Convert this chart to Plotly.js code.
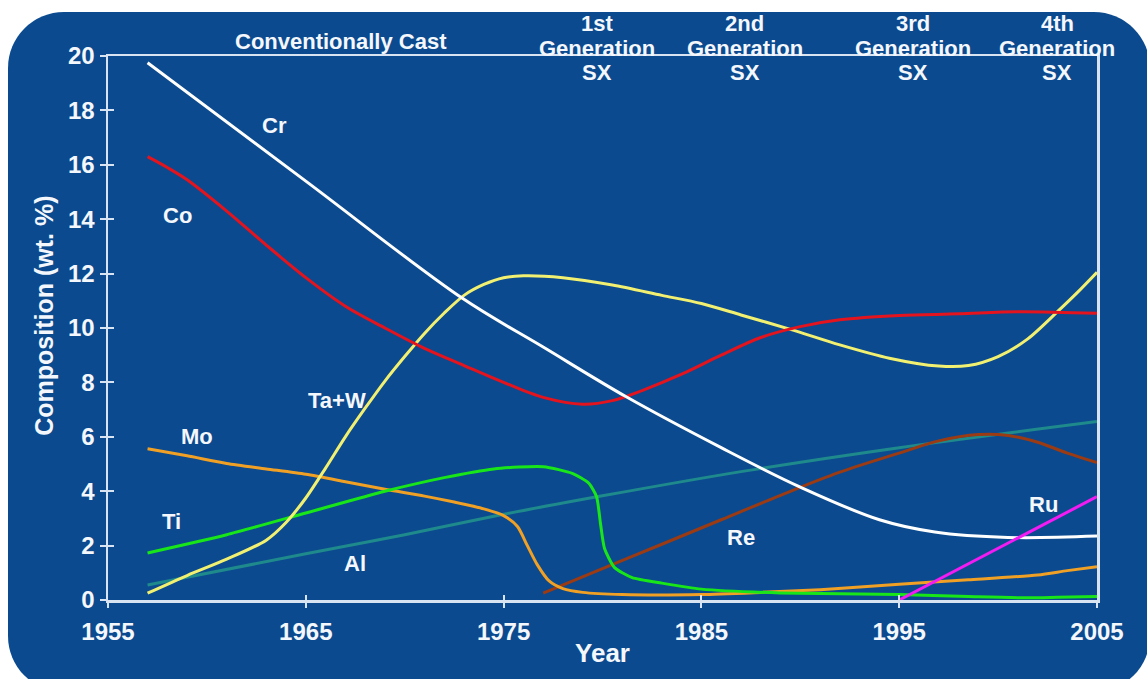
<!DOCTYPE html>
<html>
<head>
<meta charset="utf-8">
<script src="https://cdn.plot.ly/plotly-3.0.1.min.js"></script>
<style>
  html, body { margin: 0; padding: 0; background: #ffffff; overflow: hidden; }
  #panel { position: absolute; left: 8px; top: 12px; width: 1142px; height: 680px;
           background: #0b4a8f; border-radius: 56px; }
  #chart { position: absolute; left: 0; top: 0; width: 1147px; height: 679px; }
</style>
</head>
<body>
<div id="panel"></div>
<div id="chart"></div>
<script>
// ---- Data ----
const crYears = [1957, 1965, 1972.9, 1977, 1981.2, 1986, 1990, 1994, 1996.8, 2000.5, 2005];
const crVals  = [19.75, 15.4, 11.1, 9.3, 7.47, 5.6, 4.15, 2.95, 2.5, 2.3, 2.35];

const coYears = [1957, 1958, 1959, 1961, 1963, 1965, 1967, 1969, 1971, 1973, 1975, 1977, 1979, 1980.5, 1982, 1984, 1986, 1988, 1990, 1992, 1995, 1998, 2001, 2005];
const coVals  = [16.3, 15.9, 15.45, 14.3, 13.05, 11.85, 10.8, 10.0, 9.25, 8.62, 8.0, 7.45, 7.2, 7.33, 7.7, 8.3, 9.0, 9.65, 10.05, 10.3, 10.46, 10.52, 10.6, 10.54];

const tawYears = [1957, 1959, 1961, 1963, 1964, 1965, 1966, 1967, 1968, 1969, 1970, 1971, 1972, 1973, 1974, 1975, 1976, 1978, 1980.5, 1983, 1985, 1987, 1989.5, 1992, 1994.5, 1997, 1998.5, 2000, 2001.5, 2003, 2004, 2005];
const tawVals  = [0.25, 0.9, 1.5, 2.2, 2.85, 3.75, 4.85, 6.0, 7.05, 8.05, 8.95, 9.8, 10.55, 11.2, 11.6, 11.85, 11.92, 11.85, 11.58, 11.2, 10.9, 10.48, 9.95, 9.38, 8.89, 8.6, 8.62, 8.95, 9.6, 10.6, 11.3, 12.05];

const moYears = [1957, 1959, 1961, 1963, 1965, 1967, 1969, 1971, 1972.5, 1974, 1975, 1975.7, 1976.2, 1976.7, 1977.3, 1978, 1979, 1981, 1985, 1988, 1991, 1995, 1998.5, 2002, 2003.5, 2005];
const moVals  = [5.56, 5.3, 5.02, 4.82, 4.62, 4.35, 4.07, 3.82, 3.6, 3.35, 3.1, 2.7, 2.0, 1.3, 0.7, 0.42, 0.28, 0.2, 0.2, 0.28, 0.38, 0.58, 0.74, 0.92, 1.08, 1.22];

const tiYears = [1957, 1961, 1965, 1969, 1972, 1974.5, 1977, 1978.5, 1979.3, 1979.7, 1979.9, 1980.1, 1980.6, 1981.5, 1983, 1985, 1989, 1995, 1998.5, 2001.5, 2003, 2005];
const tiVals  = [1.73, 2.4, 3.2, 4.0, 4.5, 4.82, 4.9, 4.65, 4.3, 3.8, 2.8, 1.9, 1.2, 0.82, 0.62, 0.4, 0.26, 0.2, 0.13, 0.08, 0.1, 0.13];

const alYears = [1957, 1965, 1970, 1975, 1980, 1987, 1995, 2005];
const alVals  = [0.55, 1.7, 2.4, 3.15, 3.83, 4.72, 5.6, 6.56];

const reYears = [1977, 1980, 1983, 1986, 1989, 1992, 1995, 1997, 1999, 2000.5, 2002, 2003.5, 2005];
const reVals  = [0.25, 1.15, 2.05, 2.95, 3.85, 4.7, 5.4, 5.85, 6.08, 6.05, 5.8, 5.4, 5.05];

const ruYears = [1995, 2005];
const ruVals  = [0.0, 3.8];

const elementNames  = ['Cr', 'Co', 'Ta+W', 'Mo', 'Ti', 'Al', 'Re', 'Ru'];
const labelYears    = [1963.4, 1958.5, 1966.6, 1959.5, 1958.2, 1967.5, 1987.0, 2002.3];
const labelVals     = [17.45, 14.15, 7.35, 6.0, 2.87, 1.36, 2.28, 3.5];

const eraLabel = 'Conventionally Cast';
const eraYear = 1966.8;
const genOrdinals = ['1st', '2nd', '3rd', '4th'];
const genYears = [1979.7, 1987.2, 1995.7, 2003.0];

const xTicks = [1955, 1965, 1975, 1985, 1995, 2005];
const yTicks = [0, 2, 4, 6, 8, 10, 12, 14, 16, 18, 20];

// ---- Styling ----
const FONT = '"Liberation Sans", Arial, sans-serif';
const TXT = '#f4f7fc';
const FRAME = '#d9e4f2';

function series(x, y, color, shape, smoothing) {
  return {
    x: x, y: y, type: 'scatter', mode: 'lines',
    line: { color: color, width: 3, shape: shape, smoothing: smoothing },
    hoverinfo: 'skip', showlegend: false
  };
}

const traces = [
  series(alYears, alVals, '#1f8a8c', 'spline', 1),
  series(reYears, reVals, '#9b3b14', 'spline', 1),
  series(moYears, moVals, '#f0a024', 'spline', 0.7),
  series(tiYears, tiVals, '#19e619', 'spline', 0.6),
  series(tawYears, tawVals, '#f2f070', 'spline', 0.8),
  series(coYears, coVals, '#e3141e', 'spline', 0.9),
  series(crYears, crVals, '#ffffff', 'spline', 1),
  series(ruYears, ruVals, '#f21cf2', 'linear', 0),
  // empty trace on overlay axes (used only for inner tick marks)
  { x: [], y: [], xaxis: 'x2', yaxis: 'y2', type: 'scatter', mode: 'lines', hoverinfo: 'skip', showlegend: false }
];

const labelFont = { family: FONT, size: 22, color: TXT, weight: 700 };
const annotations = [];
for (let i = 0; i < elementNames.length; i++) {
  annotations.push({
    x: labelYears[i], y: labelVals[i], xref: 'x', yref: 'y', text: elementNames[i],
    showarrow: false, xanchor: 'center', yanchor: 'middle', font: labelFont
  });
}
annotations.push({
  x: eraYear, y: 1.027, xref: 'x', yref: 'paper', text: eraLabel, showarrow: false,
  xanchor: 'center', yanchor: 'middle', font: labelFont
});
const genLineY = [1.059, 1.0147, 0.9688];
for (let i = 0; i < genOrdinals.length; i++) {
  const lines = [genOrdinals[i], 'Generation', 'SX'];
  for (let j = 0; j < 3; j++) {
    annotations.push({
      x: genYears[i], y: genLineY[j], xref: 'x', yref: 'paper', text: lines[j], showarrow: false,
      xanchor: 'center', yanchor: 'middle', font: labelFont
    });
  }
}
// y-axis title
annotations.push({
  x: -0.065, y: 0.522, xref: 'paper', yref: 'paper', text: 'Composition (wt. %)', textangle: -90,
  showarrow: false, xanchor: 'center', yanchor: 'middle',
  font: { family: FONT, size: 25, color: TXT, weight: 700 }
});

const tickFont = { family: FONT, size: 24, color: TXT, weight: 700 };

const layout = {
  width: 1147, height: 679,
  margin: { l: 108, r: 50, t: 56, b: 79 },
  paper_bgcolor: 'rgba(0,0,0,0)', plot_bgcolor: 'rgba(0,0,0,0)',
  showlegend: false,
  xaxis: {
    range: [1955, 2005], tickvals: xTicks, ticktext: xTicks.map(String),
    showgrid: false, zeroline: false,
    showline: true, linecolor: FRAME, linewidth: 2.5, mirror: true,
    ticks: 'outside', ticklen: 5, tickwidth: 2, tickcolor: FRAME,
    tickfont: tickFont, ticklabelstandoff: 4,
    title: { text: 'Year', font: { family: FONT, size: 26, color: TXT, weight: 700 }, standoff: 0 }
  },
  yaxis: {
    range: [0, 20], tickvals: yTicks, ticktext: yTicks.map(String),
    showgrid: false, zeroline: false,
    showline: true, linecolor: FRAME, linewidth: 2.5, mirror: true,
    ticks: 'outside', ticklen: 6, tickwidth: 2, tickcolor: FRAME,
    tickfont: tickFont
  },
  xaxis2: {
    overlaying: 'x', anchor: 'y2', range: [1955, 2005], tickvals: xTicks,
    showgrid: false, zeroline: false, showline: false, showticklabels: false,
    ticks: 'inside', ticklen: 5, tickwidth: 2, tickcolor: FRAME
  },
  yaxis2: {
    overlaying: 'y', anchor: 'x2', range: [0, 20], tickvals: yTicks,
    showgrid: false, zeroline: false, showline: false, showticklabels: false,
    ticks: 'inside', ticklen: 6, tickwidth: 2, tickcolor: FRAME
  },
  annotations: annotations
};

Plotly.newPlot('chart', traces, layout, { displayModeBar: false, staticPlot: true });
</script>
</body>
</html>
